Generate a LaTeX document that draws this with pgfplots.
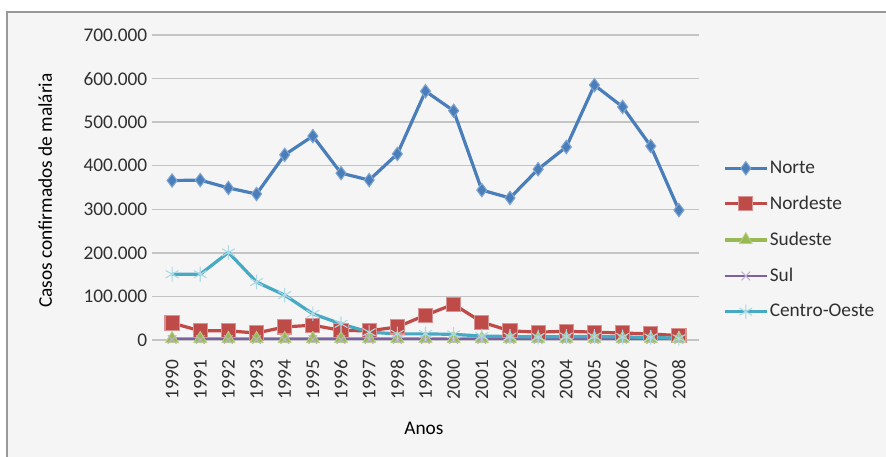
\documentclass[border=0pt]{standalone}
\usepackage{pgfplots}
\pgfplotsset{compat=1.18}
\usepackage{fontspec}
\setmainfont{Carlito}
\definecolor{bgc}{HTML}{F5F5F5}
\definecolor{cN}{HTML}{4A7EBB}
\definecolor{cNE}{HTML}{BE4B48}
\definecolor{cSE}{HTML}{98B954}
\definecolor{cS}{HTML}{7D60A0}
\definecolor{cCO}{HTML}{46AAC5}
\definecolor{gridc}{HTML}{C4C4C4}
\definecolor{txt}{HTML}{303030}
\pgfplotstableread{
x N NE SE S CO
0 366 39 3 1 151
1 367 21 3 1 151
2 349 21 3 1 201
3 335 16 3 1 133
4 425 30 3 1 103
5 468 34 3 1 60
6 383 22 3 1 37
7 367 21 3 1 18
8 427 30 3 1 14
9 571 57 3 1 14
10 526 82 3 1 13
11 344 41 3 1 9
12 326 21 3 1 8
13 392 18 3 1 7
14 443 20 3 1 8
15 585 18 3 1 8
16 535 16 3 1 7
17 445 14 3 1 6
18 298 10 3 1 4
}\datatable
\begin{document}
\begin{tikzpicture}
\useasboundingbox (0pt,0pt) rectangle (664.5pt,342.75pt);
\fill[white] (0pt,0pt) rectangle (664.5pt,342.75pt);
\draw[fill=bgc, draw=gray!80, line width=1.2pt] (5.25pt,333.75pt) rectangle (690pt,-20pt);
\begin{axis}[
  at={(118.5pt,87.75pt)}, anchor=south west,
  scale only axis, width=401.25pt, height=228.75pt,
  xmin=-0.5, xmax=18.5, ymin=0, ymax=700,
  axis line style={draw=none},
  xtick={0,...,18},
  xticklabels={1990,1991,1992,1993,1994,1995,1996,1997,1998,1999,2000,2001,2002,2003,2004,2005,2006,2007,2008},
  xtick style={draw=none},
  xticklabel style={rotate=90, anchor=east, font=\fontsize{14.5}{17}\selectfont, text=txt, xshift=-7pt},
  ytick={0,100,...,700},
  yticklabels={0,100.000,200.000,300.000,400.000,500.000,600.000,700.000},
  yticklabel style={font=\fontsize{14.5}{17}\selectfont, text=txt},
  ytick style={draw=gridc, line width=1pt},
  tick align=outside, major tick length=4.5pt,
  ymajorgrids, grid style={draw=gridc, line width=1pt},
  ylabel={Casos confirmados de malária},
  ylabel style={at={(axis description cs:-0.211,0.49)}, anchor=center, font=\fontsize{14.5}{17}\selectfont},
  xlabel={Anos},
  xlabel style={at={(axis description cs:0.497,-0.289)}, anchor=center, font=\fontsize{14.5}{17}\selectfont},
  legend style={at={(axis description cs:1.056,0.592)}, anchor=north west, draw=none, fill=none,
     font=\fontsize{14.5}{17}\selectfont, row sep=13.5pt, inner sep=0pt,
     nodes={inner sep=1pt, text=txt}},
  legend cell align=left,
  legend image code/.code={\draw[mark repeat=2,mark phase=2] plot coordinates {(0pt,0pt) (15.75pt,0pt) (31.5pt,0pt)};},
]
\addplot[cN, line width=2.4pt, mark=diamond*, mark size=5pt, mark options={fill=cN, draw=cN!70!white, line width=0.8pt}] table[x=x,y=N]{\datatable};
\addlegendentry{Norte}
\addplot[cNE, line width=2.4pt, mark=square*, mark size=5.3pt, mark options={fill=cNE, draw=cNE!60!white, line width=0.8pt}] table[x=x,y=NE]{\datatable};
\addlegendentry{Nordeste}
\addplot[cSE, line width=2.4pt, mark=triangle*, mark size=5.5pt, mark options={fill=cSE, draw=cSE!70!white, line width=0.6pt}] table[x=x,y=SE]{\datatable};
\addlegendentry{Sudeste}
\addplot[cS, line width=1.6pt, mark=x, mark size=4.5pt, mark options={draw=cS!50!white, line width=0.8pt}] table[x=x,y=S]{\datatable};
\addlegendentry{Sul}
\addplot[cCO, line width=2.4pt, mark=asterisk, mark size=5.5pt, mark options={draw=cCO!45!white, line width=0.8pt}] table[x=x,y=CO]{\datatable};
\addlegendentry{Centro-Oeste}
\end{axis}
\end{tikzpicture}
\end{document}
